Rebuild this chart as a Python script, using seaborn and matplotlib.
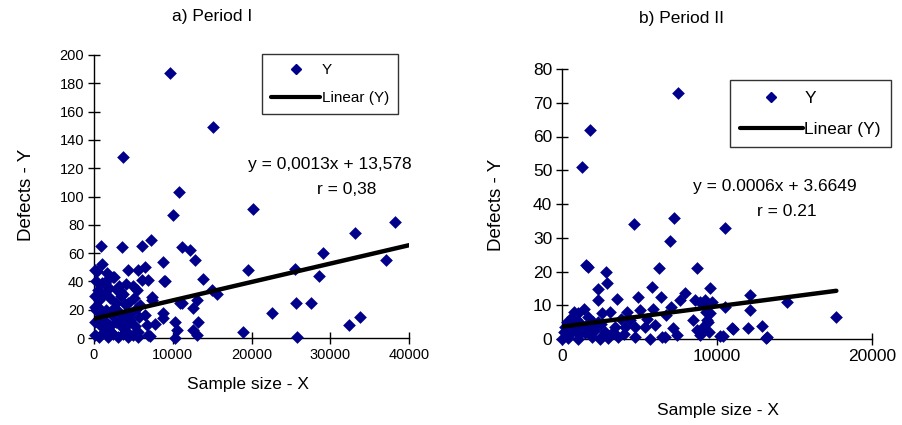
import numpy as np
import pandas as pd
import seaborn as sns
from matplotlib import pyplot as plt
from matplotlib.lines import Line2D

# Period I (sample size X, defects Y)
x1 = [9650, 15110, 3680, 10790, 10030, 20190, 38220, 33140, 29080, 19560, 25520, 28570,
      37080, 22600, 25650, 27560, 32380, 33780, 25780, 18920,
      890, 3560, 6100, 7240, 11180, 12190, 12830, 8760, 130, 2410, 4320, 5590, 6480, 6100,
      6860, 8890, 13840, 1400, 510, 2920, 5460, 7370, 3680, 13080, 14980, 15620, 10920,
      12570, 8760, 8760, 10290, 13210, 5710, 6730, 10540, 12570, 13080, 10290, 6860, 5590,
      250, 1020, 1780, 3170, 4060, 4950, 130, 630, 1270, 2030, 2790, 3430, 4320, 5080, 5840,
      250, 890, 1520, 2290, 3050, 3810, 4700, 5460, 6480, 130, 760, 1400, 2030, 2790, 3560,
      4440, 5210, 7750, 130, 630, 1140, 1780, 2410, 3050, 3680, 4320, 4950, 5590, 7110,
      380, 1650, 2540, 9020, 3300, 7370, 11180,
      500, 1900, 2600, 3300, 4100, 1000, 600, 1500, 2200, 100, 3900, 4600]
y1 = [187, 149, 128, 103, 87, 91, 82, 74, 60, 48, 49, 44,
      55, 18, 25, 25, 9, 15, 1, 4,
      65, 64, 65, 69, 64, 62, 55, 54, 48, 43, 48, 48, 50, 41,
      41, 40, 42, 39, 34, 34, 34, 29, 31, 27, 34, 31, 25,
      21, 18, 14, 11, 11, 15, 9, 6, 6, 2, 0, 2, 4,
      40, 39, 42, 37, 38, 37, 30, 27, 31, 28, 25, 30, 25, 28, 23,
      20, 17, 20, 16, 19, 16, 18, 21, 16, 11, 9, 12, 8.5, 11, 8,
      10.6, 8.5, 10, 2, 0.7, 3.5, 0.7, 3, 0.7, 3, 0.7, 2, 0.7, 1.4,
      47, 46, 43, 40, 33, 27, 25,
      22, 35, 21, 13, 5, 52, 14, 6, 4, 22, 24, 13]

# Period II
x2 = [7480, 1810, 1290, 4650, 7230, 6970, 1680, 1550, 2840, 2900, 6260, 8710, 2320, 2320,
      4900, 5810, 6390, 3550, 9550, 7940, 10520, 14520, 17680, 12130, 12130, 12900, 13230,
      12000, 10970, 10190, 10390, 10520, 9200, 9300, 9400, 9500, 7610, 8580, 8900, 9230,
      9680, 8450, 9550, 9350, 6650, 11030, 13160, 7160, 7420, 8710, 8900, 9100,
      4190, 5030, 1030, 650, 1680, 2580, 3100,
      190, 840, 1480, 2130, 2770, 3420, 4060, 4710, 5350, 6000,
      0, 390, 1030, 1940, 2450, 2970, 3610, 4710, 5680, 6450,
      300, 900, 1200, 2000, 2500, 3800, 4400, 5500, 5900, 6700, 7000, 500, 1500,
      100, 700, 1100, 1800, 2300, 2600, 3300, 4000, 1400, 800]
y2 = [73, 62, 51, 34, 36, 29, 21.3, 22, 20, 16.6, 21, 21, 14.8, 11.6,
      12.5, 15.4, 12.5, 12, 15, 13.6, 33, 11, 6.5, 13, 8.6, 4, 0.6,
      3.3, 3.3, 1, 1, 9.5, 11, 8, 5, 2, 11.6, 11.6, 11, 11.6,
      11, 5.6, 7.7, 5.6, 0.6, 3, 0.3, 3.3, 1.2, 2.7, 1.2, 3.6,
      8, 8.6, 7.7, 6.5, 6.5, 7.7, 8,
      3.6, 2.7, 3.6, 2.7, 2.1, 3.6, 3.6, 3.6, 3.6, 4.1,
      0, 0.3, 0, 0.6, 0, 0.3, 0.6, 0.6, 0, 0.6,
      5, 6, 4.5, 5, 4.5, 6, 5.5, 6, 9, 7, 9.5, 1.5, 1.8,
      2, 4, 1.5, 3, 5, 1, 2, 1.5, 9, 8]

# Excel trend lines
slope1, icept1 = 0.0013, 13.578
slope2, icept2 = 0.0006, 3.6649
trend_x1 = np.array([0, 40000])
trend_x2 = np.array([0, 17700])

df1 = pd.DataFrame({"X": x1, "Y": y1})
df2 = pd.DataFrame({"X": x2, "Y": y2})
tr1 = pd.DataFrame({"X": trend_x1, "Y": slope1 * trend_x1 + icept1})
tr2 = pd.DataFrame({"X": trend_x2, "Y": slope2 * trend_x2 + icept2})

sns.set_style("white")
plt.rcParams["font.family"] = ["Liberation Sans", "DejaVu Sans"]
plt.rcParams["text.color"] = "black"
plt.rcParams["xtick.color"] = "black"
plt.rcParams["ytick.color"] = "black"
navy = "#00008B"

fig = plt.figure(figsize=(9.03, 4.25), dpi=100)
ax1 = fig.add_axes([94 / 903, 87 / 425, 315 / 903, 283 / 425])
ax2 = fig.add_axes([562 / 903, 86 / 425, 310 / 903, 270 / 425])

panels = [
    (ax1, df1, tr1, 40000, 200, 10000, 20, 10.5, (0.99, 1.03), 11, 3.2),
    (ax2, df2, tr2, 20000, 80, 10000, 10, 12.5, (1.09, 0.99), 12.5, 3.6),
]

for ax, d, tr, xmax, ymax, xstep, ystep, fs, anchor, lfs, hl in panels:
    sns.scatterplot(data=d, x="X", y="Y", ax=ax, marker="D", s=42, color=navy,
                    edgecolor=navy, linewidth=0, legend=False, clip_on=False, zorder=3)
    sns.lineplot(data=tr, x="X", y="Y", ax=ax, color="black", linewidth=3.2, zorder=4)
    ax.set_xlim(0, xmax)
    ax.set_ylim(0, ymax)
    ax.set_xticks(np.arange(0, xmax + 1, xstep))
    ax.set_yticks(np.arange(0, ymax + 1, ystep))
    ax.spines["top"].set_visible(False)
    ax.spines["right"].set_visible(False)
    for s in ("left", "bottom"):
        ax.spines[s].set_color("black")
        ax.spines[s].set_linewidth(1)
    ax.tick_params(direction="inout", length=8, width=1, color="black",
                   labelsize=fs, bottom=True, left=True, pad=3)
    ax.set_xlabel("")
    ax.set_ylabel("")
    handles = [Line2D([], [], marker="D", color=navy, linestyle="none", markersize=5),
               Line2D([], [], color="black", linewidth=3)]
    leg = ax.legend(handles, ["Y", "Linear (Y)"], loc="upper right", frameon=True,
                    fancybox=False, edgecolor="black", fontsize=lfs, handlelength=hl,
                    borderpad=0.6, labelspacing=0.9, handletextpad=0.1,
                    bbox_to_anchor=anchor)
    leg.get_frame().set_linewidth(1)

fig.text(330 / 903, 1 - 165 / 425, "y = 0,0013x + 13,578", ha="center", va="center", fontsize=12.5)
fig.text(347 / 903, 1 - 190 / 425, "r = 0,38", ha="center", va="center", fontsize=12.5)
fig.text(775 / 903, 1 - 186 / 425, "y = 0.0006x + 3.6649", ha="center", va="center", fontsize=12.5)
fig.text(787 / 903, 1 - 211 / 425, "r = 0.21", ha="center", va="center", fontsize=12.5)

fig.text(212 / 903, 1 - 17 / 425, "a) Period I", ha="center", va="center", fontsize=12.5)
fig.text(682 / 903, 1 - 18 / 425, "b) Period II", ha="center", va="center", fontsize=12.5)
fig.text(248 / 903, 1 - 385 / 425, "Sample size - X", ha="center", va="center", fontsize=12.5)
fig.text(718 / 903, 1 - 410 / 425, "Sample size - X", ha="center", va="center", fontsize=12.5)
fig.text(27 / 903, 1 - 195 / 425, "Defects - Y", ha="center", va="center", fontsize=13.5, rotation=90)
fig.text(497 / 903, 1 - 205 / 425, "Defects - Y", ha="center", va="center", fontsize=13.5, rotation=90)

fig.savefig("out.png", dpi=100)
